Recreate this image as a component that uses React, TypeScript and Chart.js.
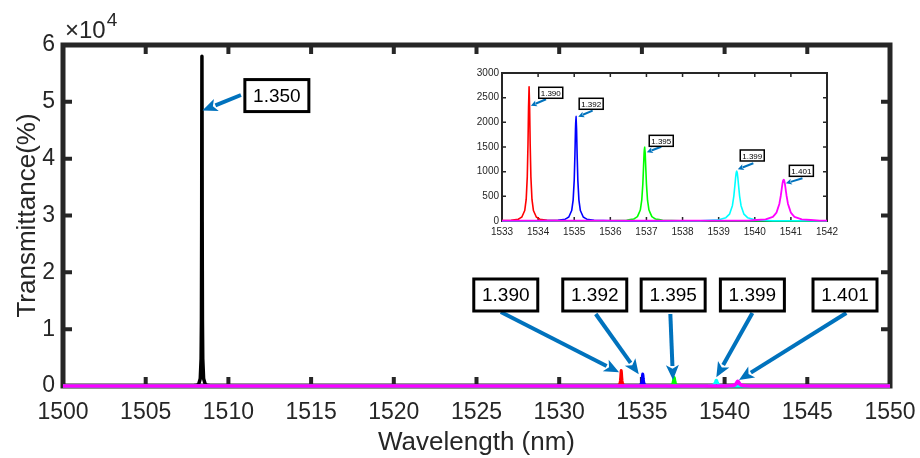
import React, { useEffect, useRef } from "react";
import { Chart, registerables } from "chart.js";

Chart.register(...registerables);

const FONT = "'Liberation Sans', Arial, Helvetica, sans-serif";
const AXIS_COLOR = "#262626";
const ARROW_COLOR = "#0072BD";

// ---- data (wavelength nm, transmittance) ----
const black1350X = [1500, 1507.4, 1507.9, 1508.1, 1508.2, 1508.3, 1508.35, 1508.37, 1508.385, 1508.392, 1508.4, 1508.408, 1508.415, 1508.43, 1508.45, 1508.5, 1508.6, 1508.7, 1508.9, 1509.4, 1550];
const black1350Y = [0, 13, 52, 144, 325, 1300, 4800, 11600, 29000, 45000, 58000, 45000, 29000, 11600, 4800, 1300, 325, 144, 52, 13, 0];

const red1390X = [1500, 1532.75, 1533.25, 1533.45, 1533.55, 1533.63, 1533.67, 1533.7, 1533.72, 1533.735, 1533.75, 1533.765, 1533.78, 1533.8, 1533.83, 1533.87, 1533.95, 1534.05, 1534.25, 1534.75, 1550];
const red1390Y = [0, 3, 13, 36, 81, 213, 437, 895, 1568, 2298, 2720, 2298, 1568, 895, 437, 213, 81, 36, 13, 3, 0];

const blue1392X = [1500, 1534.05, 1534.55, 1534.75, 1534.85, 1534.93, 1534.97, 1535.0, 1535.02, 1535.035, 1535.05, 1535.065, 1535.08, 1535.1, 1535.13, 1535.17, 1535.25, 1535.35, 1535.55, 1536.05, 1550];
const blue1392Y = [0, 3, 14, 37, 82, 212, 424, 827, 1357, 1859, 2120, 1859, 1357, 827, 424, 212, 82, 37, 14, 3, 0];

const green1395X = [1500, 1535.95, 1536.45, 1536.65, 1536.75, 1536.83, 1536.87, 1536.9, 1536.92, 1536.935, 1536.95, 1536.965, 1536.98, 1537.0, 1537.03, 1537.07, 1537.15, 1537.25, 1537.45, 1537.95, 1550];
const green1395Y = [0, 4, 15, 41, 88, 222, 421, 750, 1103, 1376, 1500, 1376, 1103, 750, 421, 222, 88, 41, 15, 4, 0];

const cyan1399X = [1500, 1538.5, 1539.0, 1539.2, 1539.3, 1539.38, 1539.42, 1539.45, 1539.47, 1539.485, 1539.5, 1539.515, 1539.53, 1539.55, 1539.58, 1539.62, 1539.7, 1539.8, 1540.0, 1540.5, 1550];
const cyan1399Y = [0, 6, 25, 67, 139, 311, 505, 726, 886, 976, 1010, 976, 886, 726, 505, 311, 139, 67, 25, 6, 0];

const magenta1401X = [1500, 1539.8, 1540.3, 1540.5, 1540.6, 1540.68, 1540.72, 1540.75, 1540.77, 1540.785, 1540.8, 1540.815, 1540.83, 1540.85, 1540.88, 1540.92, 1541.0, 1541.1, 1541.3, 1541.8, 1550];
const magenta1401Y = [0, 8, 32, 84, 168, 344, 512, 672, 771, 821, 840, 821, 771, 672, 512, 344, 168, 84, 32, 8, 0];

const seriesLabels = ["1.401", "1.399", "1.395", "1.392", "1.390", "1.350"];
const seriesColors = ["#FF00FF", "#00FFFF", "#00FF00", "#0000FF", "#FF0000", "#000000"];
const seriesXs = [magenta1401X, cyan1399X, green1395X, blue1392X, red1390X, black1350X];
const seriesYs = [magenta1401Y, cyan1399Y, green1395Y, blue1392Y, red1390Y, black1350Y];

const mainXTicks = [1500, 1505, 1510, 1515, 1520, 1525, 1530, 1535, 1540, 1545, 1550];
const mainYTicks = [0, 10000, 20000, 30000, 40000, 50000, 60000];
const insetXTicks = [1533, 1534, 1535, 1536, 1537, 1538, 1539, 1540, 1541, 1542];
const insetYTicks = [0, 500, 1000, 1500, 2000, 2500, 3000];

// annotations: label, box centre, arrow tail, arrow tip (data coordinates)
const mainNoteLabels = ["1.350", "1.390", "1.392", "1.395", "1.399", "1.401"];
const mainNoteBox = [[1512.93, 51100], [1526.77, 16011], [1532.15, 16011], [1536.89, 16011], [1541.68, 16011], [1547.28, 16011]];
const mainNoteTail = [[1510.76, 51200], [1526.47, 13020], [1532.21, 12668], [1536.72, 12668], [1541.68, 12844], [1547.36, 12844]];
const mainNoteTip = [[1508.43, 48474], [1533.62, 2410], [1534.81, 2059], [1536.88, 1056], [1539.5, 1531], [1540.87, 1056]];

const insetNoteLabels = ["1.390", "1.392", "1.395", "1.399", "1.401"];
const insetNoteBox = [[1534.35, 2599], [1535.47, 2376], [1537.41, 1625], [1539.93, 1328], [1541.29, 1017]];
const insetNoteTail = [[1534.22, 2467], [1535.51, 2236], [1537.41, 1506], [1539.96, 1170], [1541.32, 866]];
const insetNoteTip = [[1533.8, 2337], [1535.11, 2114], [1537.01, 1393], [1539.53, 1048], [1540.86, 764]];

type FrameOpts = { lw: number; tickLen: number; tickW: number; xTicks: number[]; yTicks: number[] };
type NoteOpts = {
  labels: string[]; box: number[][]; tail: number[][]; tip: number[][];
  fontSize: number; boxW: number; boxH: number; boxLw: number;
  arrowLw: number; headLen: number; headHalf: number;
};

function framePlugin(o: FrameOpts) {
  return {
    id: "frame",
    beforeDatasetsDraw(chart: any) {
      const { ctx, chartArea: a, scales } = chart;
      ctx.save();
      ctx.strokeStyle = AXIS_COLOR;
      ctx.lineWidth = o.lw;
      ctx.strokeRect(a.left, a.top, a.right - a.left, a.bottom - a.top);
      ctx.lineWidth = o.tickW;
      ctx.lineCap = "butt";
      ctx.beginPath();
      for (const v of o.xTicks) {
        const px = scales.x.getPixelForValue(v);
        if (Math.abs(px - a.left) < 2 || Math.abs(px - a.right) < 2) continue;
        ctx.moveTo(px, a.bottom);
        ctx.lineTo(px, a.bottom - o.tickLen);
        ctx.moveTo(px, a.top);
        ctx.lineTo(px, a.top + o.tickLen);
      }
      for (const v of o.yTicks) {
        const py = scales.y.getPixelForValue(v);
        if (Math.abs(py - a.top) < 2 || Math.abs(py - a.bottom) < 2) continue;
        ctx.moveTo(a.left, py);
        ctx.lineTo(a.left + o.tickLen, py);
        ctx.moveTo(a.right, py);
        ctx.lineTo(a.right - o.tickLen, py);
      }
      ctx.stroke();
      ctx.restore();
    },
  };
}

function drawArrow(ctx: CanvasRenderingContext2D, x1: number, y1: number, x2: number, y2: number, lw: number, headLen: number, headHalf: number) {
  const ang = Math.atan2(y2 - y1, x2 - x1);
  const c = Math.cos(ang), s = Math.sin(ang);
  const bx = x2 - headLen * c, by = y2 - headLen * s;
  ctx.strokeStyle = ARROW_COLOR;
  ctx.fillStyle = ARROW_COLOR;
  ctx.lineWidth = lw;
  ctx.lineCap = "butt";
  ctx.beginPath();
  ctx.moveTo(x1, y1);
  ctx.lineTo(bx + 1 * c, by + 1 * s);
  ctx.stroke();
  ctx.beginPath();
  ctx.moveTo(x2, y2);
  ctx.lineTo(bx + headHalf * s, by - headHalf * c);
  ctx.lineTo(bx + headLen * 0.25 * c, by + headLen * 0.25 * s);
  ctx.lineTo(bx - headHalf * s, by + headHalf * c);
  ctx.closePath();
  ctx.fill();
}

function notePlugin(o: NoteOpts) {
  return {
    id: "notes",
    afterDatasetsDraw(chart: any) {
      const { ctx, scales } = chart;
      const X = (v: number) => scales.x.getPixelForValue(v);
      const Y = (v: number) => scales.y.getPixelForValue(v);
      ctx.save();
      o.labels.forEach((lab, i) => {
        drawArrow(ctx, X(o.tail[i][0]), Y(o.tail[i][1]), X(o.tip[i][0]), Y(o.tip[i][1]), o.arrowLw, o.headLen, o.headHalf);
      });
      o.labels.forEach((lab, i) => {
        const cx = X(o.box[i][0]);
        const cy = Y(o.box[i][1]);
        ctx.fillStyle = "#ffffff";
        ctx.fillRect(cx - o.boxW / 2, cy - o.boxH / 2, o.boxW, o.boxH);
        ctx.strokeStyle = "#000000";
        ctx.lineWidth = o.boxLw;
        ctx.strokeRect(cx - o.boxW / 2, cy - o.boxH / 2, o.boxW, o.boxH);
        ctx.fillStyle = "#000000";
        ctx.font = `${o.fontSize}px ${FONT}`;
        ctx.textAlign = "center";
        ctx.textBaseline = "middle";
        ctx.fillText(lab, cx, cy + 1);
      });
      ctx.restore();
    },
  };
}

const exponentPlugin = {
  id: "exponent",
  afterDraw(chart: any) {
    const { ctx, chartArea: a } = chart;
    ctx.save();
    ctx.fillStyle = AXIS_COLOR;
    ctx.textAlign = "left";
    ctx.textBaseline = "alphabetic";
    ctx.font = `24px ${FONT}`;
    const base = "\u00d710";
    ctx.fillText(base, a.left + 2, a.top - 7);
    const w = ctx.measureText(base).width;
    ctx.font = `19px ${FONT}`;
    ctx.fillText("4", a.left + 2 + w + 1, a.top - 19);
    ctx.restore();
  },
};

const whiteBg = {
  id: "whiteBg",
  beforeDraw(chart: any) {
    const { ctx, width, height } = chart;
    ctx.save();
    ctx.fillStyle = "#ffffff";
    ctx.fillRect(0, 0, width, height);
    ctx.restore();
  },
};

function buildDatasets(lw: number, magentaLw: number, blackLw: number) {
  return seriesLabels.map((label, i) => ({
    label,
    data: seriesXs[i].map((x, j) => ({ x, y: seriesYs[i][j] })),
    borderColor: seriesColors[i],
    backgroundColor: seriesColors[i],
    borderWidth: i === 0 ? magentaLw : i === 5 ? blackLw : lw,
    borderJoinStyle: "round" as const,
    borderCapStyle: "round" as const,
    pointRadius: 0,
    tension: 0.0001,
    fill: false,
    clip: { left: 0, right: 0, top: 0, bottom: 3 } as any,
  }));
}

const noSidePadding = (s: any) => { s.paddingLeft = 0; s.paddingRight = 0; };

export default function App() {
  const mainRef = useRef<HTMLCanvasElement>(null);
  const insetRef = useRef<HTMLCanvasElement>(null);

  useEffect(() => {
    document.body.style.margin = "0";
    const main = new Chart(mainRef.current!, {
      type: "line",
      data: { datasets: buildDatasets(3, 3.5, 3.5) as any },
      options: {
        animation: false,
        responsive: false,
        layout: { padding: { left: 0, top: 45, right: 30, bottom: 0 } },
        plugins: { legend: { display: false }, tooltip: { enabled: false } },
        scales: {
          x: {
            type: "linear",
            min: 1500,
            max: 1550,
            afterBuildTicks: (s: any) => { s.ticks = mainXTicks.map((v) => ({ value: v })); },
            afterFit: (s: any) => { s.height = 72; noSidePadding(s); },
            ticks: { font: { family: FONT, size: 23 }, color: AXIS_COLOR, padding: 13, maxRotation: 0, autoSkip: false, callback: (v: any) => String(v) },
            grid: { display: false, drawTicks: false },
            border: { display: false },
            title: { display: true, text: "Wavelength (nm)", font: { family: FONT, size: 26 }, color: AXIS_COLOR, padding: { top: 0, bottom: 0 } },
          },
          y: {
            type: "linear",
            min: 0,
            max: 60000,
            afterBuildTicks: (s: any) => { s.ticks = mainYTicks.map((v) => ({ value: v })); },
            afterFit: (s: any) => { s.width = 63; s.paddingTop = 0; s.paddingBottom = 0; },
            ticks: { font: { family: FONT, size: 23 }, color: AXIS_COLOR, padding: 8, callback: (v: any) => String(Number(v) / 10000) },
            grid: { display: false, drawTicks: false },
            border: { display: false },
            title: { display: true, text: "Transmittance(%)", font: { family: FONT, size: 26 }, color: AXIS_COLOR, padding: { top: 12, bottom: 0 } },
          },
        },
      },
      plugins: [
        whiteBg,
        framePlugin({ lw: 5, tickLen: 9, tickW: 4, xTicks: mainXTicks, yTicks: mainYTicks }),
        notePlugin({
          labels: mainNoteLabels, box: mainNoteBox, tail: mainNoteTail, tip: mainNoteTip,
          fontSize: 19, boxW: 64, boxH: 32, boxLw: 3, arrowLw: 4, headLen: 15, headHalf: 6.5,
        }),
        exponentPlugin,
      ],
    });

    const inset = new Chart(insetRef.current!, {
      type: "line",
      data: { datasets: buildDatasets(1.6, 1.8, 1.6) as any },
      options: {
        animation: false,
        responsive: false,
        layout: { padding: { left: 0, top: 11, right: 15, bottom: 0 } },
        plugins: { legend: { display: false }, tooltip: { enabled: false } },
        scales: {
          x: {
            type: "linear",
            min: 1533,
            max: 1542,
            afterBuildTicks: (s: any) => { s.ticks = insetXTicks.map((v) => ({ value: v })); },
            afterFit: (s: any) => { s.height = 25; noSidePadding(s); },
            ticks: { font: { family: FONT, size: 10 }, color: AXIS_COLOR, padding: 5, maxRotation: 0, autoSkip: false, callback: (v: any) => String(v) },
            grid: { display: false, drawTicks: false },
            border: { display: false },
          },
          y: {
            type: "linear",
            min: 0,
            max: 3000,
            afterBuildTicks: (s: any) => { s.ticks = insetYTicks.map((v) => ({ value: v })); },
            afterFit: (s: any) => { s.width = 40; s.paddingTop = 0; s.paddingBottom = 0; },
            ticks: { font: { family: FONT, size: 10 }, color: AXIS_COLOR, padding: 3, callback: (v: any) => String(v) },
            grid: { display: false, drawTicks: false },
            border: { display: false },
          },
        },
      },
      plugins: [
        whiteBg,
        framePlugin({ lw: 2, tickLen: 4, tickW: 1.5, xTicks: insetXTicks, yTicks: insetYTicks }),
        notePlugin({
          labels: insetNoteLabels, box: insetNoteBox, tail: insetNoteTail, tip: insetNoteTip,
          fontSize: 8, boxW: 24, boxH: 11, boxLw: 1.5, arrowLw: 2, headLen: 6, headHalf: 3,
        }),
      ],
    });

    return () => {
      main.destroy();
      inset.destroy();
    };
  }, []);

  return (
    <div style={{ position: "relative", width: 920, height: 458, background: "#ffffff" }}>
      <canvas ref={mainRef} width={920} height={458} style={{ position: "absolute", left: 0, top: 0 }} />
      <canvas ref={insetRef} width={380} height={184} style={{ position: "absolute", left: 462, top: 62 }} />
    </div>
  );
}
